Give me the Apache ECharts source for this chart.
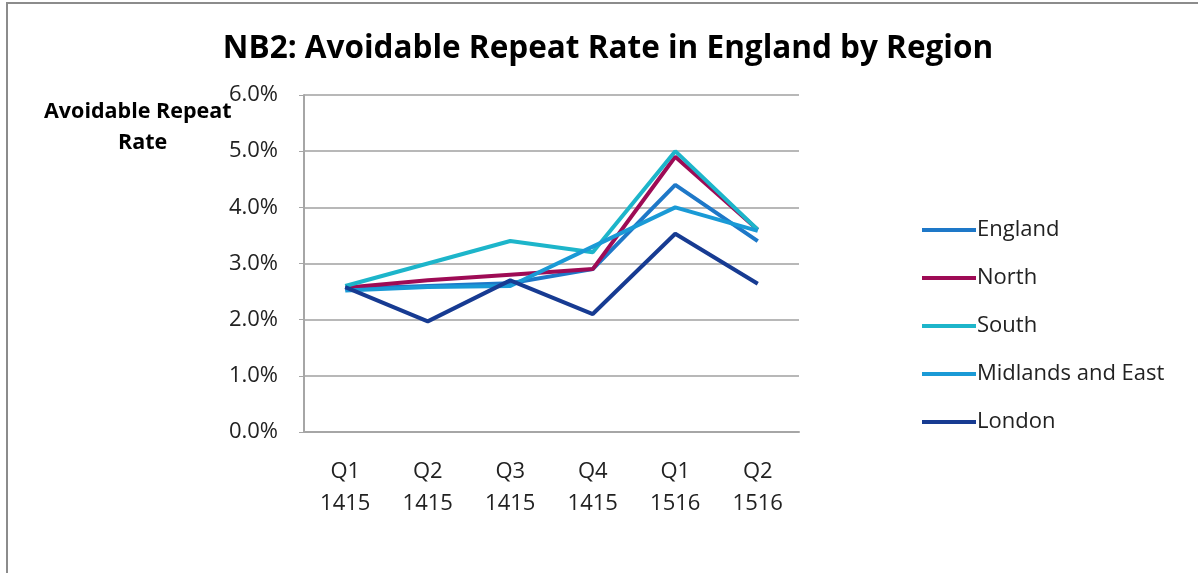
<!DOCTYPE html>
<html>
<head>
<meta charset="utf-8">
<script src="https://cdn.jsdelivr.net/npm/echarts@6/dist/echarts.min.js"></script>
<style>
html,body{margin:0;padding:0;background:#fff;}
#main{width:1198px;height:573px;}
</style>
</head>
<body>
<div id="main"></div>
<script>
var categories = ['Q1\n1415', 'Q2\n1415', 'Q3\n1415', 'Q4\n1415', 'Q1\n1516', 'Q2\n1516'];
var england = [2.55, 2.6, 2.65, 2.9, 4.4, 3.4];
var north = [2.57, 2.7, 2.8, 2.9, 4.9, 3.6];
var south = [2.6, 3.0, 3.4, 3.2, 5.0, 3.6];
var midlands = [2.52, 2.58, 2.6, 3.3, 4.0, 3.58];
var london = [2.58, 1.97, 2.7, 2.1, 3.53, 2.64];
var seriesNames = ['England', 'North', 'South', 'Midlands and East', 'London'];
var seriesColors = ['#1E78C8', '#9E0B55', '#1DB5CA', '#1A9AD6', '#173B92'];
var seriesData = [england, north, south, midlands, london];
var FONT = "'Open Sans', sans-serif";

var chart = echarts.init(document.getElementById('main'));
// draw order: England first so North overlays it
var order = [0, 3, 1, 2, 4];
var series = order.map(function (i) {
  return {
    name: seriesNames[i],
    type: 'line',
    data: seriesData[i],
    symbol: 'none',
    lineStyle: { width: 4, color: seriesColors[i] },
    itemStyle: { color: seriesColors[i] },
    z: 2 + i
  };
});
chart.setOption({
  animation: false,
  backgroundColor: '#fff',
  title: {
    text: 'NB2: Avoidable Repeat Rate in England by Region',
    left: 603, top: 28, textAlign: 'center',
    textStyle: { fontFamily: FONT, fontSize: 31.5, fontWeight: 'bold', color: '#000' }
  },
  graphic: [
    { type: 'rect', shape: { x: 7, y: 3, width: 1300, height: 700 }, style: { fill: 'none', stroke: '#8c8c8c', lineWidth: 2 }, silent: true },
    { type: 'text', left: 44, top: 101, style: { text: 'Avoidable Repeat', font: "bold 21.5px " + FONT, fill: '#000' } },
    { type: 'text', left: 118, top: 132, style: { text: 'Rate', font: "bold 21.5px " + FONT, fill: '#000' } }
  ],
  legend: {
    data: seriesNames,
    orient: 'vertical',
    left: 917, top: 214,
    itemWidth: 54, itemHeight: 4, itemGap: 26,
    icon: 'rect',
    textStyle: { fontFamily: FONT, fontSize: 22, color: '#222', padding: [0, 0, 0, -4] }
  },
  grid: { left: 304, right: 399, top: 95, bottom: 141 },
  xAxis: {
    type: 'category',
    data: categories,
    boundaryGap: true,
    axisLine: { lineStyle: { color: '#a6a6a6', width: 2 } },
    axisTick: { show: false },
    axisLabel: { fontFamily: FONT, fontSize: 22, color: '#222', margin: 24, lineHeight: 32 }
  },
  yAxis: {
    type: 'value',
    min: 0, max: 6, interval: 1,
    axisLine: { show: true, lineStyle: { color: '#a6a6a6', width: 2 } },
    axisTick: { show: true, length: 5, lineStyle: { color: '#a6a6a6' } },
    splitLine: { lineStyle: { color: '#a0a0a0', width: 1.5 } },
    axisLabel: { fontFamily: FONT, fontSize: 22, color: '#222', margin: 26,
      formatter: function (v) { return v.toFixed(1) + '%'; } }
  },
  series: series
});
</script>
</body>
</html>
